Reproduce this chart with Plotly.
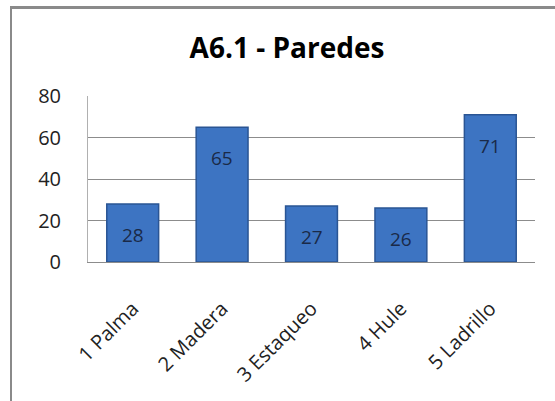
import plotly.graph_objects as go

categories = ["1 Palma", "2 Madera", "3 Estaqueo", "4 Hule", "5 Ladrillo"]
values = [28, 65, 27, 26, 71]
y_ticks = [0, 20, 40, 60, 80]
title_text = "A6.1 - Paredes"

FONT = "Open Sans, Calibri, sans-serif"

L, R, T, B = 88, 20, 96, 139
W, H = 555, 401
pw, ph = W - L - R, H - T - B

fig = go.Figure()
fig.add_trace(go.Bar(
    x=categories, y=values,
    marker=dict(color="#3d74c2", line=dict(color="#2a5594", width=1.5)),
    hoverinfo="skip",
))

for c, v in zip(categories, values):
    fig.add_annotation(x=c, y=v, text=str(v), showarrow=False,
                       yanchor="top", yshift=-16,
                       font=dict(family=FONT, size=19, color="#1a2a48"))

fig.update_layout(
    width=W, height=H,
    margin=dict(l=L, r=R, t=T, b=B, autoexpand=False),
    paper_bgcolor="white", plot_bgcolor="white",
    showlegend=False,
    bargap=0.42,
    title=dict(text="<b>" + title_text + "</b>", x=287 / W, xanchor="center",
               y=1 - 48 / H, yanchor="middle",
               font=dict(family=FONT, size=28, color="black")),
    xaxis=dict(tickangle=-45, tickfont=dict(family=FONT, size=20, color="#222"),
               showline=True, linecolor="#8c8c8c", linewidth=1,
               ticks="", showgrid=False, automargin=False,
               ticklabelstandoff=26),
    yaxis=dict(range=[0, 80], tickvals=y_ticks, showgrid=True,
               gridcolor="#8c8c8c", gridwidth=1, zeroline=False,
               showline=True, linecolor="#b0b0b0", linewidth=1,
               ticks="", ticklen=0, automargin=False,
               ticklabelstandoff=22,
               tickfont=dict(family=FONT, size=20, color="#222")),
    shapes=[
        dict(type="rect", xref="paper", yref="paper", layer="above",
             x0=(11 - L) / pw, x1=(W + 20 - L) / pw,
             y0=(H - B - 7) / ph, y1=-(B + 20) / ph,
             fillcolor="rgba(0,0,0,0)",
             line=dict(color="#8a8a8a", width=2)),
        dict(type="line", xref="paper", yref="paper", layer="above",
             x0=(11 - L) / pw, x1=(W - L) / pw,
             y0=(H - B - 8) / ph, y1=(H - B - 8) / ph,
             line=dict(color="#8a8a8a", width=2)),
    ],
)

fig.write_html("out.html", config={"displayModeBar": False},
               post_script="document.body.style.margin='0';")
